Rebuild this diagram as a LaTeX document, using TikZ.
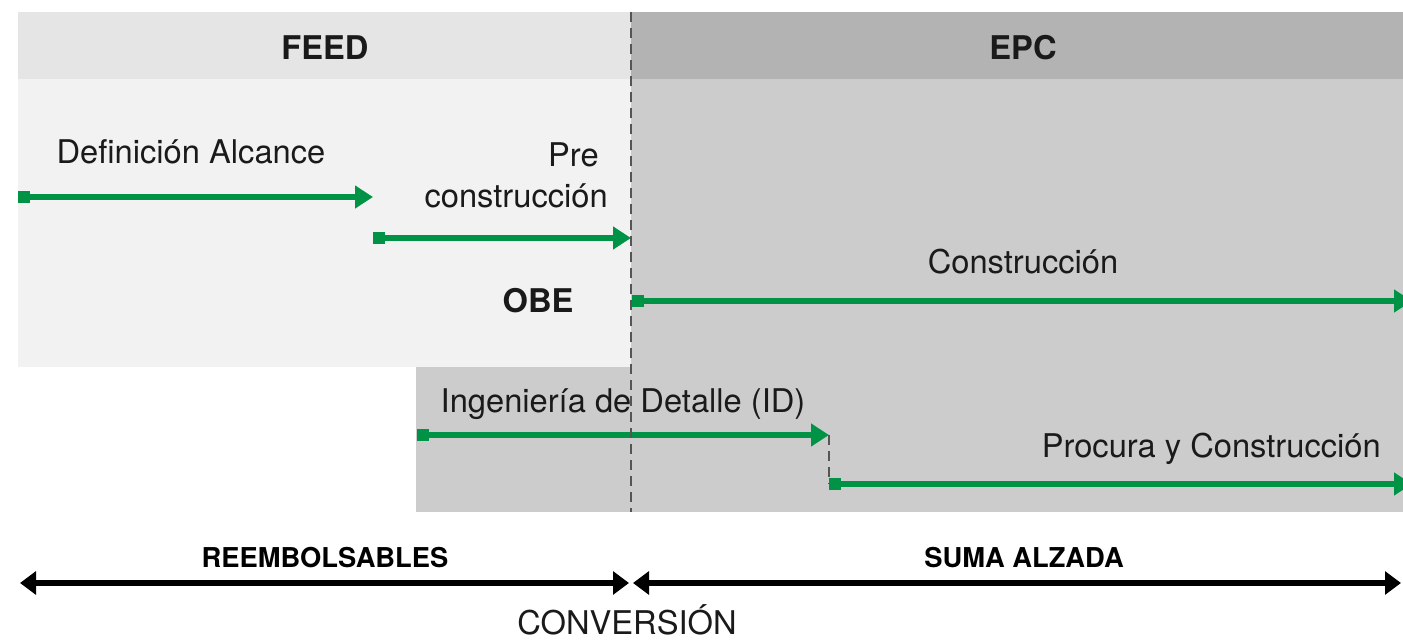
\documentclass[tikz,border=0pt]{standalone}
\usepackage{fontspec}
\setmainfont{TeX Gyre Heros}
\usetikzlibrary{arrows.meta}
\definecolor{grn}{HTML}{009245}
\definecolor{hdrL}{HTML}{E5E5E5}
\definecolor{hdrR}{HTML}{B3B3B3}
\definecolor{bodyL}{HTML}{F2F2F2}
\definecolor{bodyR}{HTML}{CCCCCC}
\definecolor{dashgray}{HTML}{555555}
\definecolor{txt}{HTML}{1A1A1A}
\begin{document}
\begin{tikzpicture}[x=0.75pt,y=-0.75pt,
  lbl/.style={inner sep=0pt, text=txt, font=\fontsize{24.5}{30.75}\selectfont},
  blbl/.style={inner sep=0pt, text=txt, font=\fontsize{24.5}{29}\selectfont\bfseries},
  slbl/.style={inner sep=0pt, text=black, font=\fontsize{20.5}{24}\selectfont\bfseries},
  garrow/.style={draw=grn, line width=4pt, {Square[length=9pt,width=8.5pt]}-{Triangle[length=13.5pt,width=16.5pt]}},
  karrow/.style={draw=black, line width=4.2pt, {Triangle[length=12pt,width=17pt]}-{Triangle[length=12pt,width=17pt]}},
  dline/.style={draw=dashgray, line width=1.7pt, dash pattern=on 7.5pt off 4.5pt}]
\useasboundingbox (0,0) rectangle (1403,640);
\clip (0,0) rectangle (1403,640);
\fill[white] (0,0) rectangle (1403,640);
% backgrounds
\fill[hdrL] (18,12) rectangle (631,79);
\fill[hdrR] (631,12) rectangle (1403,79);
\fill[bodyL] (18,79) rectangle (631,367);
\fill[bodyR] (631,79) rectangle (1403,512);
\fill[bodyR] (416,367) rectangle (631,512);
% coordinates
\coordinate (a1s) at (18,197);
\coordinate (a1e) at (373,197);
\coordinate (a2s) at (373,238);
\coordinate (a2e) at (631,238);
\coordinate (a3s) at (632,301);
\coordinate (a3e) at (1412,301);
\coordinate (a4s) at (417,435);
\coordinate (a4e) at (829,435);
\coordinate (a5s) at (829,484);
\coordinate (a5e) at (1412,484);
\coordinate (dtop) at (631,12);
\coordinate (dbot) at (631,512);
\coordinate (k1s) at (20,583);
\coordinate (k1e) at (629,583);
\coordinate (k2s) at (633,583);
\coordinate (k2e) at (1401,583);
% labels
\node[blbl, anchor=base] (feed) at (325,59) {FEED};
\node[blbl, anchor=base] (epc) at (1023,59) {EPC};
\node[lbl, anchor=base] (defal) at (191,163) {Definición Alcance};
\node[lbl, anchor=base east, align=right] (precons) at (608,207) {Pre\hspace*{6.8pt}\\construcción};
\node[blbl, anchor=base] (obe) at (538,312) {OBE};
\node[lbl, anchor=base] (cons) at (1023,273) {Construcción};
\node[lbl, anchor=base] (ingd) at (623,412) {Ingeniería de Detalle (ID)};
\node[lbl, anchor=base east] (procc) at (1381,457) {Procura y Construcción};
\node[slbl, anchor=base] (reemb) at (325,567) {REEMBOLSABLES};
\node[slbl, anchor=base] (suma) at (1024,567) {SUMA ALZADA};
\node[lbl, anchor=base] (conv) at (627,634) {CONVERSIÓN};
% connectors
\draw[dline] (a4e) -- (a5s);
\draw[garrow] (a1s) -- (a1e);
\draw[garrow] (a2s) -- (a2e);
\draw[garrow] (a3s) -- (a3e);
\draw[garrow] (a4s) -- (a4e);
\draw[garrow] (a5s) -- (a5e);
\draw[karrow] (k1s) -- (k1e);
\draw[karrow] (k2s) -- (k2e);
\draw[dline] (dtop) -- (dbot);
\end{tikzpicture}
\end{document}
